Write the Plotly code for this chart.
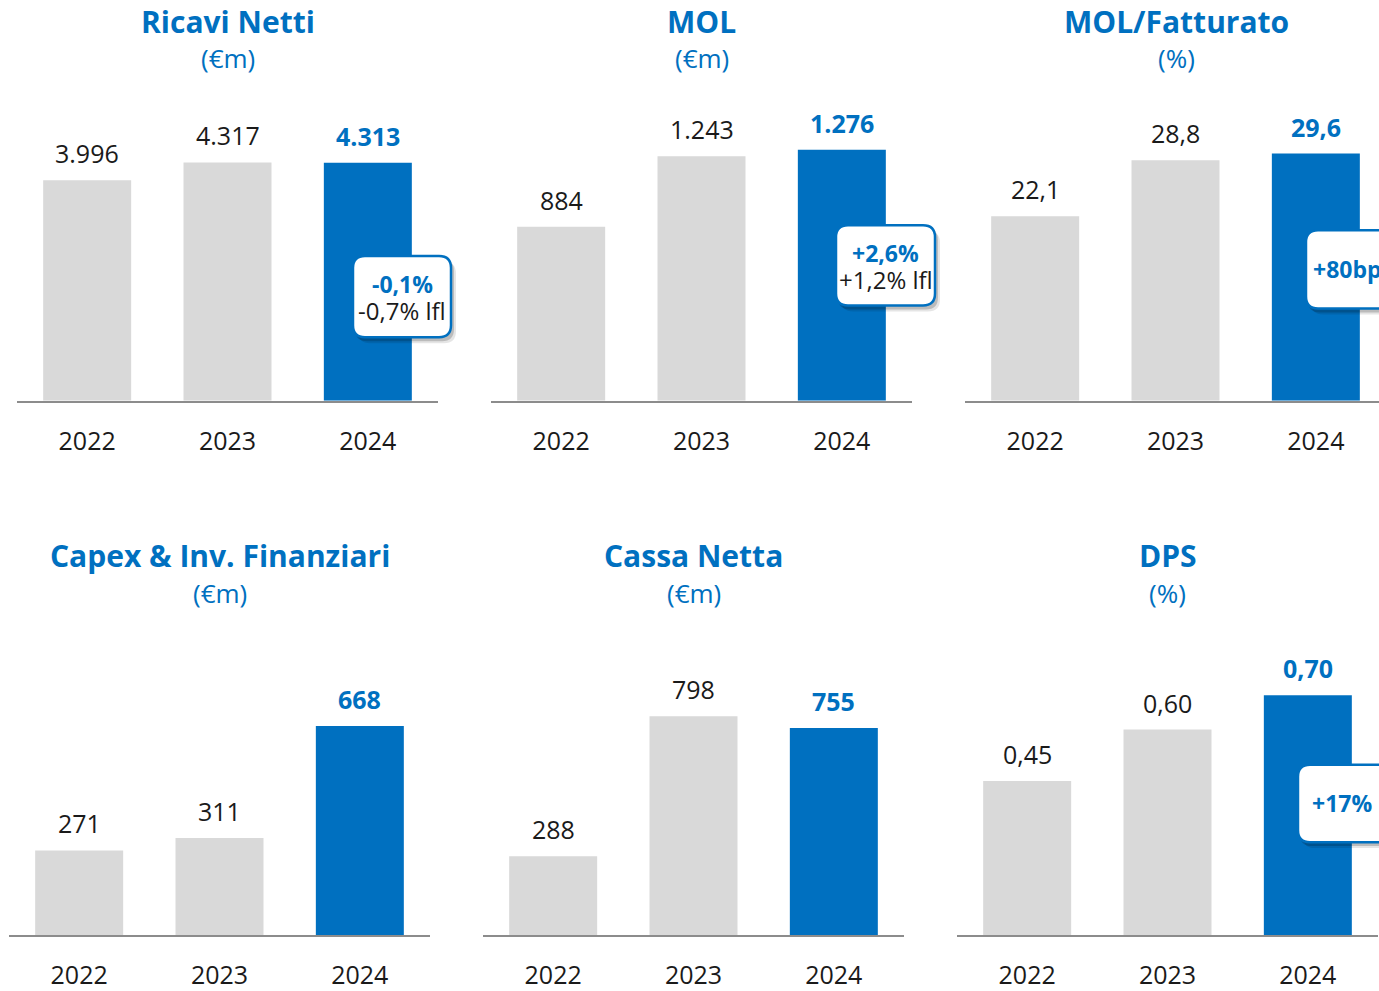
import plotly.graph_objects as go

# ---------------- Data ----------------
years = ["2022", "2023", "2024"]

titles = ["Ricavi Netti", "MOL", "MOL/Fatturato",
          "Capex & Inv. Finanziari", "Cassa Netta", "DPS"]
units = ["(€m)", "(€m)", "(%)", "(€m)", "(€m)", "(%)"]

ricavi_netti = [3996, 4317, 4313]
mol = [884, 1243, 1276]
mol_fatturato = [22.1, 28.8, 29.6]
capex_inv_fin = [271, 311, 668]
cassa_netta = [288, 798, 755]
dps = [0.45, 0.60, 0.70]

series = [ricavi_netti, mol, mol_fatturato, capex_inv_fin, cassa_netta, dps]
decimals = [0, 0, 1, 0, 0, 2]

# callouts: (panel, bold line, second line)
callouts = [
    (0, "-0,1%", "-0,7% lfl"),
    (1, "+2,6%", "+1,2% lfl"),
    (2, "+80bp", None),
    (5, "+17%", None),
]

# ---------------- Style ----------------
W, H = 1379, 991
BLUE = "#0070C0"
GREY = "#D9D9D9"
TEXT = "#1A1A1A"
FONT = "Open Sans"

# panel layout in pixels: (x0, x1, baseline, top)
panels = [
    (17, 438, 404, 101), (491, 912, 404, 101), (965, 1379, 404, 101),
    (9, 430, 943, 640), (483, 904, 943, 640), (957, 1378, 943, 640),
]
y_max = [5445, 1528, 36.0, 959, 1094, 0.876]
title_y = [(22, 58), (22, 58), (22, 58), (560, 598), (560, 598), (560, 598)]

# callout boxes in pixels: (x0, y0, x1, y1)
boxes = {0: (353, 258, 451, 340), 1: (836, 227, 935, 308),
         2: (1306, 232, 1405, 311), 5: (1298, 771, 1397, 849)}
# horizontal nudge of the single-line callout texts
single_dx = {2: -8, 5: -6}


def px_x(p):
    return p / W


def px_y(p):
    return 1 - p / H


def fmt(v, d):
    s = f"{v:,.{d}f}"
    return s.replace(",", "X").replace(".", ",").replace("X", ".")


def rrect(x0, y0, x1, y1, r=11):
    pts = [
        ("M", x0 + r, y0), ("L", x1 - r, y0), ("Q", x1, y0, x1, y0 + r),
        ("L", x1, y1 - r), ("Q", x1, y1, x1 - r, y1), ("L", x0 + r, y1),
        ("Q", x0, y1, x0, y1 - r), ("L", x0, y0 + r), ("Q", x0, y0, x0 + r, y0),
    ]
    out = []
    for p in pts:
        cmd, coords = p[0], p[1:]
        xy = []
        for i in range(0, len(coords), 2):
            xy.append(f"{px_x(coords[i]):.5f},{px_y(coords[i + 1]):.5f}")
        out.append(cmd + " " + " ".join(xy))
    return " ".join(out) + " Z"


def paper_text(x, y, text, size, color):
    return dict(x=px_x(x), y=px_y(y), xref="paper", yref="paper",
                xanchor="center", yanchor="middle",
                text=text, showarrow=False,
                font=dict(family=FONT, size=size, color=color))


fig = go.Figure()
annotations = []
shapes = []

for i, vals in enumerate(series):
    n = i + 1
    xa = "x" if n == 1 else f"x{n}"
    ya = "y" if n == 1 else f"y{n}"
    x0, x1, base, top = panels[i]

    fig.add_trace(go.Bar(
        x=years, y=vals, xaxis=xa, yaxis=ya,
        width=0.627,
        marker=dict(color=[GREY, GREY, BLUE], line_width=0),
        hoverinfo="skip", showlegend=False,
    ))

    x_end = 2.5 if i != 2 else 2.45
    fig.update_layout({
        f"xaxis{n if n > 1 else ''}": dict(
            domain=[px_x(x0), px_x(x1)], anchor=ya,
            range=[-0.5, x_end], type="category",
            showline=True, linecolor="#8C8C8C", linewidth=2,
            showgrid=False, zeroline=False, ticks="",
            ticklabelstandoff=17,
            tickfont=dict(family=FONT, size=25, color=TEXT),
            fixedrange=True,
        ),
        f"yaxis{n if n > 1 else ''}": dict(
            domain=[px_y(base), px_y(top)], anchor=xa,
            range=[0, y_max[i]], showticklabels=False, showgrid=False,
            zeroline=False, showline=False, fixedrange=True,
        ),
    })

    # value labels above bars
    for j, v in enumerate(vals):
        last = j == len(vals) - 1
        annotations.append(dict(
            x=j, y=v, xref=xa, yref=ya,
            text=f"<b>{fmt(v, decimals[i])}</b>" if last else fmt(v, decimals[i]),
            showarrow=False, xanchor="center", yanchor="middle", yshift=27,
            font=dict(family=FONT, size=25, color=BLUE if last else TEXT),
        ))

    # titles
    cx = (x0 + x1) / 2 if i != 2 else 1176
    ty, uy = title_y[i]
    annotations.append(paper_text(cx, ty, f"<b>{titles[i]}</b>", 30, BLUE))
    annotations.append(paper_text(cx, uy, units[i], 26, BLUE))

# callouts
for panel, main, sub in callouts:
    bx0, by0, bx1, by1 = boxes[panel]
    shapes.append(dict(type="path", xref="paper", yref="paper",
                       path=rrect(bx0 + 5, by0 + 6, bx1 + 5, by1 + 6, 12),
                       fillcolor="rgba(0,0,0,0.10)", line_width=0))
    shapes.append(dict(type="path", xref="paper", yref="paper",
                       path=rrect(bx0 + 2, by0 + 3, bx1 + 3, by1 + 4, 12),
                       fillcolor="rgba(0,0,0,0.18)", line_width=0))
    shapes.append(dict(type="path", xref="paper", yref="paper",
                       path=rrect(bx0, by0, bx1, by1, 12),
                       fillcolor="white", line=dict(color=BLUE, width=2.5)))
    cx = (bx0 + bx1) / 2
    if sub is None:
        annotations.append(paper_text(cx + single_dx.get(panel, 0),
                                      (by0 + by1) / 2,
                                      f"<b>{main}</b>", 23, BLUE))
    else:
        annotations.append(paper_text(cx, by0 + 28, f"<b>{main}</b>", 23, BLUE))
        annotations.append(paper_text(cx, by0 + 55, sub, 24, TEXT))

fig.update_layout(
    width=W, height=H,
    margin=dict(l=0, r=0, t=0, b=0),
    paper_bgcolor="white",
    plot_bgcolor="white",
    annotations=annotations,
    shapes=shapes,
    font=dict(family=FONT, color=TEXT),
    showlegend=False,
)

fig.write_html("out.html", config={"displayModeBar": False},
               post_script="document.body.style.margin='0';")
